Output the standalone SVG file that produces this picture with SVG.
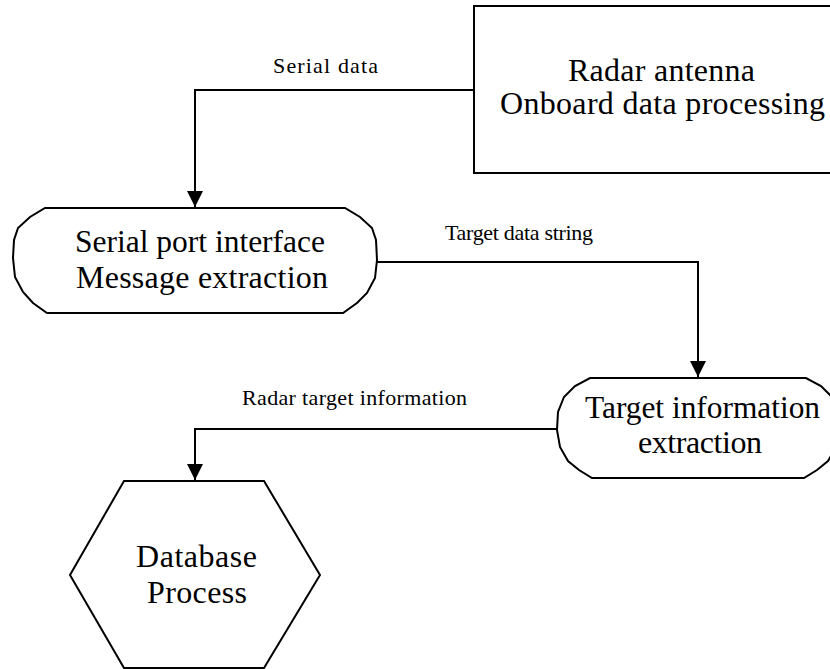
<svg xmlns="http://www.w3.org/2000/svg" width="830" height="669" viewBox="0 0 830 669">
<style>
.shape{fill:#fff;stroke:#000;stroke-width:2;stroke-linejoin:miter}
.edge{fill:none;stroke:#000;stroke-width:2}
.nt{font-family:"Liberation Serif","Times New Roman",serif;font-size:32px;fill:#000}
.lt{font-family:"Liberation Serif","Times New Roman",serif;font-size:22px;fill:#000}
</style>
<defs>
<marker id="arr" viewBox="0 0 16 16" refX="16" refY="8" markerWidth="16" markerHeight="16" orient="auto" markerUnits="userSpaceOnUse">
<path d="M0,0 L16,8 L0,16 Z" fill="#000"/>
</marker>
</defs>
<rect width="830" height="669" fill="#fff"/>
<g id="connectors">
<path class="edge" d="M474,90 H195 V207" marker-end="url(#arr)"/>
<path class="edge" d="M377,262 H698 V377" marker-end="url(#arr)"/>
<path class="edge" d="M557,429 H195 V480" marker-end="url(#arr)"/>
<text class="lt" x="273" y="73" textLength="105" lengthAdjust="spacing">Serial data</text>
<text class="lt" x="445" y="240" textLength="148" lengthAdjust="spacing">Target data string</text>
<text class="lt" x="242" y="405" textLength="225" lengthAdjust="spacing">Radar target information</text>
</g>
<g id="radar">
<rect class="shape" x="474" y="6" width="380" height="167"/>
<text class="nt" x="568" y="81" textLength="187" lengthAdjust="spacing">Radar antenna</text>
<text class="nt" x="500" y="114" textLength="325" lengthAdjust="spacing">Onboard data processing</text>
</g>
<g id="serial">
<polygon class="shape" points="45,208 345,208 360,217 372,228 376,240 377,260 375,278 367,293 357,303 343,313 47,313 33,303 23,292 15,277 13,258 14,240 18,228 30,217"/>
<text class="nt" x="75" y="252" textLength="250" lengthAdjust="spacingAndGlyphs">Serial port interface</text>
<text class="nt" x="76" y="288" textLength="252" lengthAdjust="spacing">Message extraction</text>
</g>
<g id="target">
<polygon class="shape" points="590,378 806,378 821,386 832,397 838,412 839,430 836,447 828,461 817,470 804,478 592,478 579,470 568,461 560,447 557,430 558,412 564,397 575,386"/>
<text class="nt" x="585" y="418" textLength="235" lengthAdjust="spacingAndGlyphs">Target information</text>
<text class="nt" x="638" y="453" textLength="124" lengthAdjust="spacing">extraction</text>
</g>
<g id="database">
<polygon class="shape" points="124,481 264,481 320,575 264,668 124,668 70,575"/>
<text class="nt" x="136" y="567" textLength="121" lengthAdjust="spacing">Database</text>
<text class="nt" x="147" y="603" textLength="100" lengthAdjust="spacing">Process</text>
</g>
</svg>
